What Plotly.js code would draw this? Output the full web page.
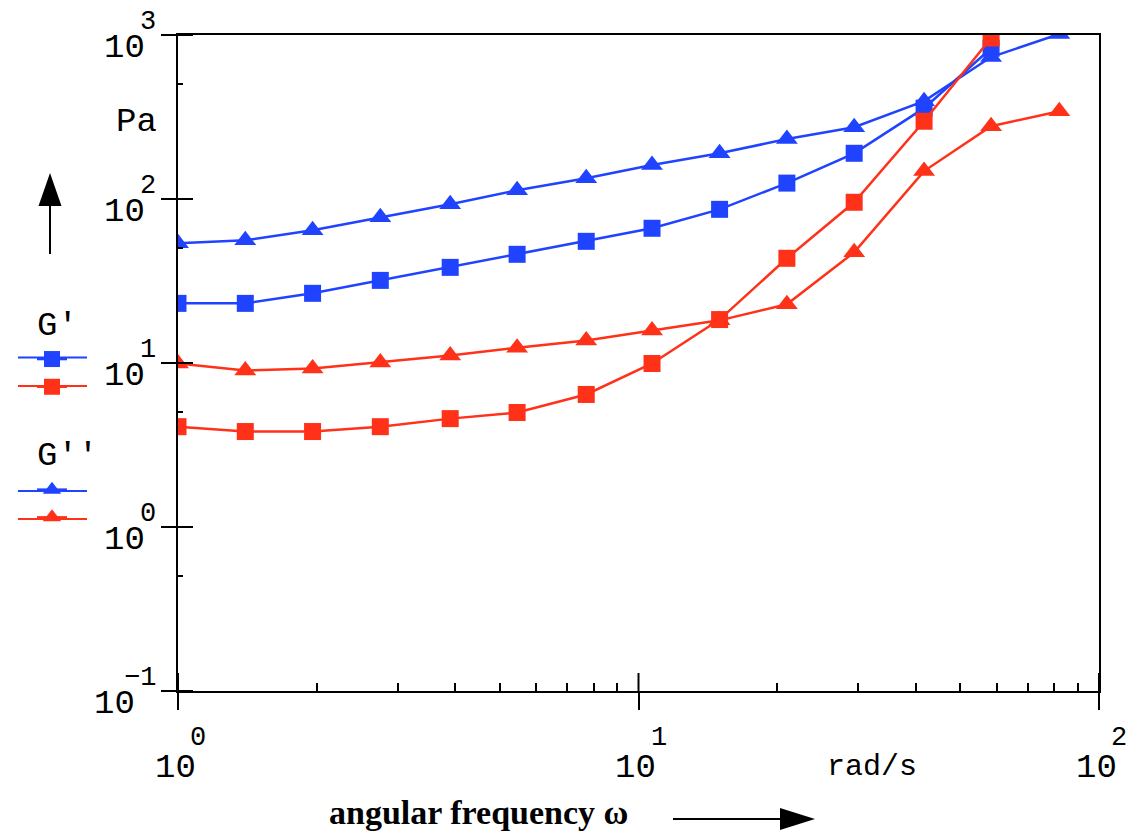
<!DOCTYPE html>
<html>
<head>
<meta charset="utf-8">
<script src="https://cdn.plot.ly/plotly-3.0.1.min.js"></script>
<style>html,body{margin:0;padding:0;background:#fff;}#chart{width:1140px;height:831px;}</style>
</head>
<body>
<div id="chart"></div>
<script>
// angular frequency (rad/s)
const freq = [1, 1.4, 1.96, 2.75, 3.9, 5.45, 7.7, 10.7, 15, 21, 29.4, 41.7, 58.3, 82];
// G' (storage modulus, Pa)
const gPrimeBlue = [23.1, 23.1, 26.6, 31.9, 38.3, 46.0, 55.2, 66.3, 86.5, 125, 190, 358, 830];
const gPrimeRed  = [4.09, 3.82, 3.82, 4.09, 4.58, 4.99, 6.43, 9.93, 18.4, 43.5, 95.5, 298, 959];
// G'' (loss modulus, Pa)
const gDoubleBlue = [53.7, 56.0, 64.4, 77.4, 92.9, 113, 134, 161, 190, 232, 274, 395, 734, 1014];
const gDoubleRed  = [9.93, 9.0, 9.25, 10.07, 11.1, 12.4, 13.7, 15.8, 18.2, 22.8, 47.3, 148, 278, 343];
// axis ticks
const xTickVals = [1, 10, 100];
const xTickExp = ['0', '1', '2'];
const xMinorVals = [2,3,4,5,6,7,8,9,20,30,40,50,60,70,80,90];
const yTickVals = [0.1, 1, 10, 100, 1000];
const yTickExp = ['\u22121', '0', '1', '2', '3'];
const yMinorVals = [0.5, 5, 50, 500];

const BLUE = '#1f43ff';
const RED = '#ff3118';
const MONO = 'Liberation Mono, Courier New, monospace';

// layout geometry (pixels)
const W = 1140, H = 831, L = 178, R = 41, T = 35, B = 140;
const PW = W - L - R, PH = H - T - B;
const px = v => (v - L) / PW;
const py = v => (H - B - v) / PH;

function trace(y, name, color, symbol, group, gtitle) {
  return {
    x: freq.slice(0, y.length), y: y, name: ' ', type: 'scatter', mode: 'lines+markers',
    legendgroup: group, legendgrouptitle: {text: gtitle, font: {family: MONO, size: 34, color: '#000'}},
    line: {color: color, width: 2.5},
    marker: {symbol: symbol, size: symbol === 'square' ? 17 : 19, color: color, line: {width: 0}},
    hovertemplate: name + ': %{y} Pa at %{x} rad/s<extra></extra>'
  };
}

const data = [
  trace(gPrimeBlue, "G' (blue)", BLUE, 'square', 'gp', "G'"),
  trace(gDoubleBlue, "G'' (blue)", BLUE, 'triangle-up', 'gpp', "G''"),
  trace(gDoubleRed, "G'' (red)", RED, 'triangle-up', 'gpp', "G''"),
  trace(gPrimeRed, "G' (red)", RED, 'square', 'gp', "G'")
];

const annotations = [];
xTickVals.forEach((v, i) => {
  annotations.push({xref: 'x', yref: 'paper', x: Math.log10(v), y: py(768), text: '10', showarrow: false,
    xanchor: 'center', yanchor: 'middle', xshift: -3, font: {family: MONO, size: 34, color: '#000'}});
  annotations.push({xref: 'x', yref: 'paper', x: Math.log10(v), y: py(738), text: xTickExp[i], showarrow: false,
    xanchor: 'left', yanchor: 'middle', xshift: 10, font: {family: MONO, size: 27, color: '#000'}});
});
yTickVals.forEach((v, i) => {
  const ex = yTickExp[i];
  annotations.push({xref: 'paper', yref: 'y', x: px(ex.length > 1 ? 137 : 147), y: Math.log10(v), text: '10', showarrow: false,
    xanchor: 'right', yanchor: 'middle', yshift: -13, font: {family: MONO, size: 34, color: '#000'}});
  annotations.push({xref: 'paper', yref: 'y', x: px(158), y: Math.log10(v), text: ex, showarrow: false,
    xanchor: 'right', yanchor: 'middle', yshift: 13, font: {family: MONO, size: 27, color: '#000'}});
});
annotations.push({xref: 'paper', yref: 'paper', x: px(136), y: py(122), text: 'Pa', showarrow: false,
  xanchor: 'center', yanchor: 'middle', font: {family: MONO, size: 34, color: '#000'}});
annotations.push({xref: 'paper', yref: 'paper', x: px(872), y: py(767), text: 'rad/s', showarrow: false,
  xanchor: 'center', yanchor: 'middle', font: {family: MONO, size: 30, color: '#000'}});
annotations.push({xref: 'paper', yref: 'paper', x: px(327), y: py(812), text: '<b>angular frequency \u03c9</b>', showarrow: false,
  xanchor: 'left', yanchor: 'middle', font: {family: 'Liberation Serif, Times New Roman, serif', size: 34, color: '#000'}});

const shapes = [
  // axis-direction arrows
  {type: 'line', xref: 'paper', yref: 'paper', x0: px(50), x1: px(50), y0: py(254), y1: py(204), line: {color: '#000', width: 2}},
  {type: 'path', xref: 'paper', yref: 'paper', path: `M${px(38.5)},${py(206)} L${px(61.5)},${py(206)} L${px(50)},${py(173)} Z`, fillcolor: '#000', line: {width: 0}},
  {type: 'line', xref: 'paper', yref: 'paper', x0: px(673), x1: px(782), y0: py(819), y1: py(819), line: {color: '#000', width: 2}},
  {type: 'path', xref: 'paper', yref: 'paper', path: `M${px(780)},${py(808)} L${px(780)},${py(830)} L${px(815)},${py(819)} Z`, fillcolor: '#000', line: {width: 0}}
];
// inner half of the crossing major ticks
xTickVals.forEach(v => shapes.push({type: 'line', xref: 'x', x0: v, x1: v,
  yref: 'paper', ysizemode: 'pixel', yanchor: 0, y0: 0, y1: 18, line: {color: '#000', width: 2}}));
yTickVals.forEach(v => shapes.push({type: 'line', yref: 'y', y0: v, y1: v,
  xref: 'paper', xsizemode: 'pixel', xanchor: 0, x0: 0, x1: 15, line: {color: '#000', width: 2}}));
// longer legend sample lines (legend glyph extension)
const legendLineY = [357.5, 386, 491, 519];
const legendLineC = [BLUE, RED, BLUE, RED];
legendLineY.forEach((yy, i) => shapes.push({type: 'line', xref: 'paper', yref: 'paper', x0: px(18), x1: px(87),
  y0: py(yy), y1: py(yy), line: {color: legendLineC[i], width: 2}}));

const axBase = {type: 'log', showgrid: false, zeroline: false, showticklabels: false, tickwidth: 2, tickcolor: '#000', fixedrange: true};

const layout = {
  width: W, height: H,
  margin: {l: L, r: R, t: T, b: B, pad: 0},
  paper_bgcolor: '#fff', plot_bgcolor: '#fff',
  showlegend: true,
  legend: {x: px(32), y: py(293), xanchor: 'left', yanchor: 'top', traceorder: 'grouped', tracegroupgap: 28,
    font: {family: MONO, size: 19, color: '#000'}, bgcolor: 'rgba(0,0,0,0)', itemwidth: 30},
  xaxis: Object.assign({}, axBase, {range: [0, 2], tickvals: xTickVals, ticks: 'outside', ticklen: 17,
    showline: true, linewidth: 2, linecolor: '#000', mirror: true,
    minor: {ticks: 'inside', tickvals: xMinorVals, ticklen: 8, tickwidth: 2, tickcolor: '#000', showgrid: false}}),
  yaxis: Object.assign({}, axBase, {range: [-1, 3], tickvals: yTickVals, ticks: 'outside', ticklen: 15,
    showline: true, linewidth: 2, linecolor: '#000', mirror: true,
    minor: {ticks: 'inside', tickvals: yMinorVals, ticklen: 5, tickwidth: 2, tickcolor: '#000', showgrid: false}}),
  annotations: annotations,
  shapes: shapes,
  hovermode: 'closest'
};

Plotly.newPlot('chart', data, layout, {displayModeBar: false});
</script>
</body>
</html>
